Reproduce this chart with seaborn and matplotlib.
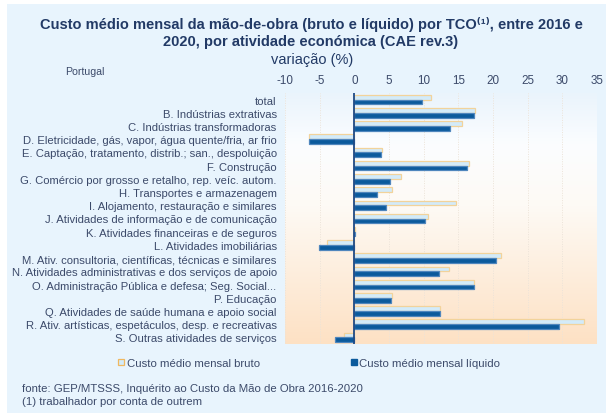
import numpy as np
import pandas as pd
import matplotlib
matplotlib.use("Agg")
import matplotlib.pyplot as plt
import seaborn as sns
from matplotlib.patches import Patch
from matplotlib.colors import LinearSegmentedColormap

categories = [
    "total",
    "B. Indústrias extrativas",
    "C. Indústrias transformadoras",
    "D. Eletricidade, gás, vapor, água quente/fria, ar frio",
    "E. Captação, tratamento, distrib.; san., despoluição",
    "F. Construção",
    "G. Comércio por grosso e retalho, rep. veíc. autom.",
    "H. Transportes e armazenagem",
    "I. Alojamento, restauração e similares",
    "J. Atividades de informação e de comunicação",
    "K. Atividades financeiras e de seguros",
    "L. Atividades imobiliárias",
    "M. Ativ. consultoria, científicas, técnicas e similares",
    "N. Atividades administrativas e dos serviços de apoio",
    "O. Administração Pública e defesa; Seg. Social...",
    "P. Educação",
    "Q. Atividades de saúde humana e apoio social",
    "R. Ativ. artísticas, espetáculos, desp. e recreativas",
    "S. Outras atividades de serviços",
]
bruto = [11.0, 17.4, 15.5, -6.5, 4.0, 16.6, 6.7, 5.5, 14.7, 10.6, 0.1, -4.0,
         21.1, 13.7, 17.3, 5.5, 12.3, 33.1, -1.5]
liquido = [9.8, 17.2, 13.8, -6.5, 3.9, 16.2, 5.2, 3.2, 4.5, 10.2, 0.1, -5.1,
           20.5, 12.2, 17.3, 5.3, 12.3, 29.5, -2.8]
series = ["Custo médio mensal bruto", "Custo médio mensal líquido"]
xticks = [-10, -5, 0, 5, 10, 15, 20, 25, 30, 35]

df = pd.DataFrame({
    "cat": categories * 2,
    "val": bruto + liquido,
    "serie": [series[0]] * len(categories) + [series[1]] * len(categories),
})

plt.rcParams["axes.unicode_minus"] = False
sns.set_style("white")
plt.rcParams["font.family"] = ["Liberation Sans", "DejaVu Sans"]

BG = "#e8f4fd"
TXT = "#3c4a6a"
TITLE = "#223a66"
LIGHT = "#d3ebf9"
LIGHT_EDGE = "#f2d39b"
DARK = "#0b5a9c"
DARK_EDGE = "#4f86bd"

fig = plt.figure(figsize=(6.06, 4.14), dpi=100, facecolor="white")
# light blue panel
fig.patches.append(plt.Rectangle((7 / 606, 0), 1, 1 - 5 / 414, transform=fig.transFigure,
                                 facecolor=BG, edgecolor="none", zorder=-10))

ax = fig.add_axes([285 / 606, 1 - 345 / 414, (597 - 285) / 606, (345 - 94) / 414])
ax.set_facecolor("none")

# gradient background of plot area
cmap = LinearSegmentedColormap.from_list("g", [(0, "#fde1c4"), (0.55, "#fefaf5"), (0.8, "#fbfdff"), (1, "#eaf4fc")])
grad = np.linspace(0, 1, 256).reshape(-1, 1)
ax.imshow(grad, extent=[0, 1, 0, 1], transform=ax.transAxes, aspect="auto",
          cmap=cmap, origin="lower", zorder=0)

sns.barplot(data=df, y="cat", x="val", hue="serie", orient="h", width=0.72,
            palette=[LIGHT, DARK], ax=ax, legend=False, zorder=3, saturation=1)
for cont, ec in zip(ax.containers, [LIGHT_EDGE, DARK_EDGE]):
    for p in cont:
        p.set_edgecolor(ec)
        p.set_linewidth(0.9)

ax.set_xlim(-10, 35)
ax.set_ylim(len(categories) - 0.5, -0.5)
ax.set_xticks(xticks)
ax.set_xticklabels([str(t) for t in xticks])
ax.xaxis.tick_top()
ax.tick_params(axis="x", length=0, pad=5, labelsize=8.4, labelcolor=TXT)
ax.tick_params(axis="y", length=0, pad=6, labelsize=8.1, labelcolor=TXT)
ax.set_xlabel("")
ax.set_ylabel("")
for s in ax.spines.values():
    s.set_visible(False)
ax.xaxis.grid(True, color="#ece3d8", linestyle=(0, (1, 1.5)), linewidth=0.7, zorder=1)
ax.set_axisbelow(True)
ax.axvline(0, color="#1f4a85", linewidth=1.3, zorder=4)

# titles
fig.text(311 / 606, 1 - 24 / 414,
         "Custo médio mensal da mão-de-obra (bruto e líquido) por TCO⁽¹⁾, entre 2016 e",
         ha="center", va="center", fontsize=10.5, fontweight="bold", color=TITLE)
fig.text(311 / 606, 1 - 42 / 414, "2020, por atividade económica (CAE rev.3)",
         ha="center", va="center", fontsize=10.5, fontweight="bold", color=TITLE)
fig.text(312 / 606, 1 - 60 / 414, "variação (%)", ha="center", va="center",
         fontsize=10.5, color=TITLE)
fig.text(65 / 606, 1 - 72 / 414, "Portugal", ha="left", va="center",
         fontsize=7.6, color=TXT)

# legend
handles = [Patch(facecolor=LIGHT, edgecolor="#f0b860", linewidth=0.9),
           Patch(facecolor=DARK, edgecolor=DARK)]
fig.legend(handles, series, loc="center left", bbox_to_anchor=(118 / 606, 1 - 364 / 414),
           ncol=2, frameon=False, fontsize=8.2, handlelength=0.55, handleheight=0.55,
           handletextpad=0.2, columnspacing=8.0, borderpad=0, borderaxespad=0,
           labelcolor=TXT)

fig.text(22 / 606, 1 - 389 / 414, "fonte: GEP/MTSSS, Inquérito ao Custo da Mão de Obra 2016-2020",
         ha="left", va="center", fontsize=8.2, color=TXT)
fig.text(22 / 606, 1 - 402 / 414, "(1) trabalhador por conta de outrem",
         ha="left", va="center", fontsize=8.2, color=TXT)

fig.savefig("out.png", dpi=100, facecolor="white")
